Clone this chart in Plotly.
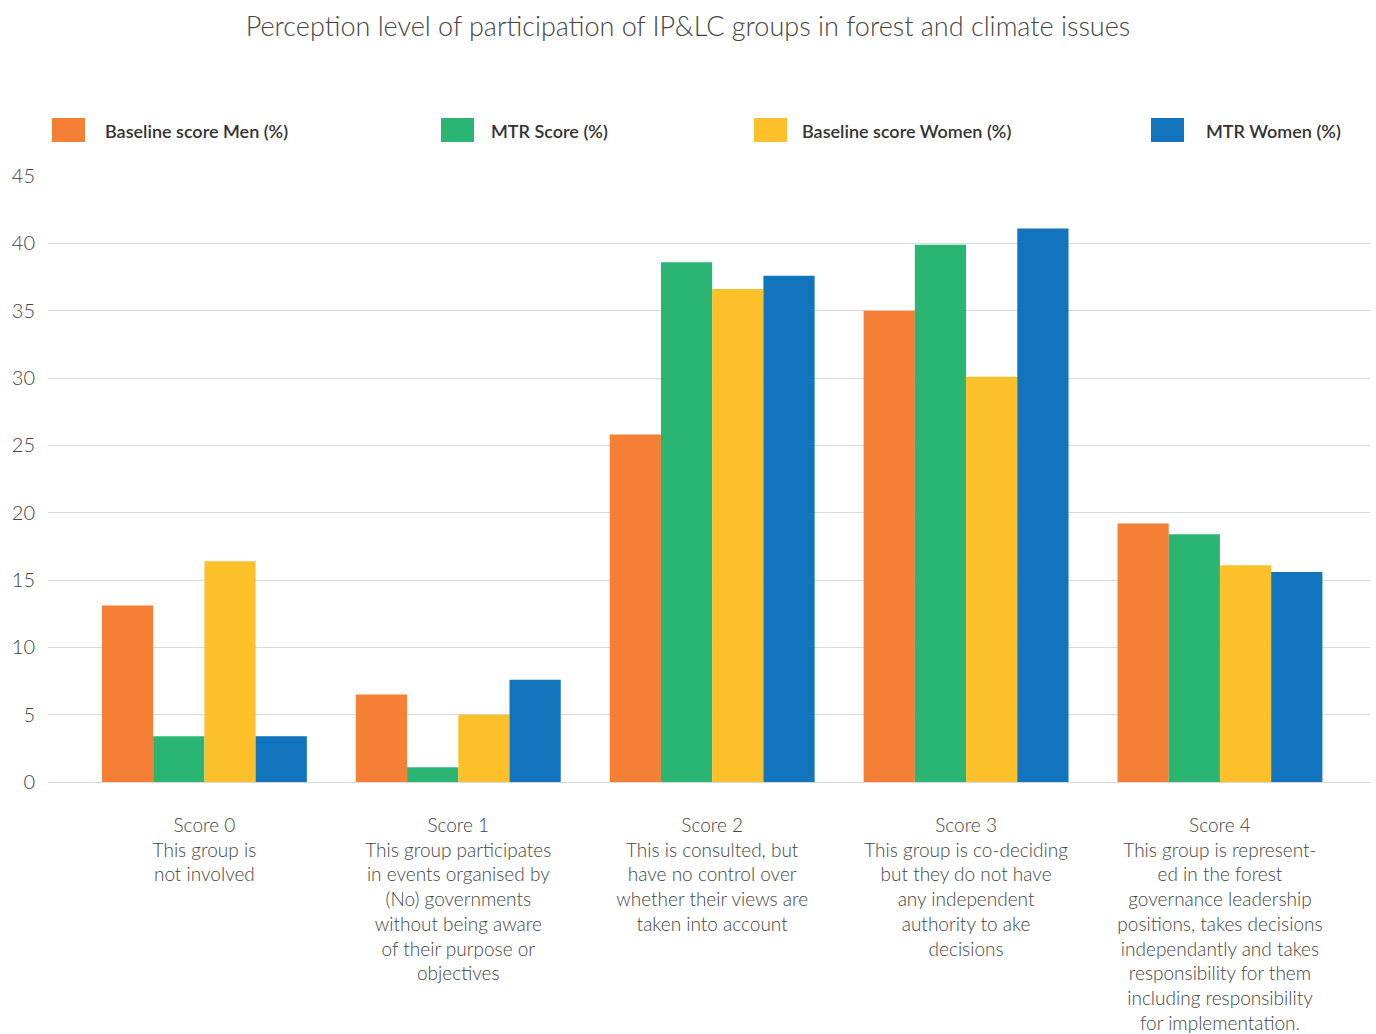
import plotly.graph_objects as go

# Participation score categories (x axis)
categories = [
    "Score 0<br>This group is<br>not involved",
    "Score 1<br>This group participates<br>in events organised by<br>(No) governments<br>without being aware<br>of their purpose or<br>objectives",
    "Score 2<br>This is consulted, but<br>have no control over<br>whether their views are<br>taken into account",
    "Score 3<br>This group is co-deciding<br>but they do not have<br>any independent<br>authority to ake<br>decisions",
    "Score 4<br>This group is represent-<br>ed in the forest<br>governance leadership<br>positions, takes decisions<br>independantly and takes<br>responsibility for them<br>including responsibility<br>for implementation.",
]

series_names = [
    "Baseline score Men (%)",
    "MTR Score (%)",
    "Baseline score Women (%)",
    "MTR Women (%)",
]

baseline_men = [13.1, 6.5, 25.8, 35.0, 19.2]
mtr_score = [3.4, 1.1, 38.6, 39.9, 18.4]
baseline_women = [16.4, 5.0, 36.6, 30.1, 16.1]
mtr_women = [3.4, 7.6, 37.6, 41.1, 15.6]

y_ticks = [0, 5, 10, 15, 20, 25, 30, 35, 40, 45]

series_values = [baseline_men, mtr_score, baseline_women, mtr_women]
colors = ["#F47F35", "#2BB573", "#FBC02A", "#1174BC"]

FONT = "Lato"
TEXT = "#444444"

W, H = 1376, 1034
L, R, T, B = 48, 6, 176, 252


def px_x(px):
    return (px - L) / (W - L - R)


def px_y(py):
    return (H - B - py) / (H - T - B)


fig = go.Figure()
for name, vals, col in zip(series_names, series_values, colors):
    fig.add_trace(go.Bar(
        x=categories, y=vals, name=name,
        marker=dict(color=col, line=dict(width=0)),
        showlegend=False,
    ))

# Legend drawn as swatches with labels spread across the top
legend_pos = [(52, 103), (441, 489), (754, 800), (1151, 1204)]
shapes = []
annotations = []
for (sx, tx), name, col in zip(legend_pos, series_names, colors):
    shapes.append(dict(
        type="rect", xref="paper", yref="paper",
        x0=px_x(sx), x1=px_x(sx + 33), y0=px_y(142), y1=px_y(118),
        fillcolor=col, line=dict(width=0),
    ))
    annotations.append(dict(
        xref="paper", yref="paper", x=px_x(tx), y=px_y(131),
        xanchor="left", yanchor="middle", showarrow=False,
        text=name, font=dict(family=FONT, size=18, color="#333333", weight=600),
    ))

fig.update_layout(
    width=W, height=H,
    margin=dict(l=L, r=R, t=T, b=B, autoexpand=False),
    paper_bgcolor="white", plot_bgcolor="white",
    barmode="group", bargap=0.193, bargroupgap=0,
    title=dict(
        text="Perception level of participation of IP&LC groups in forest and climate issues",
        x=0.5, xref="container", xanchor="center", y=1 - 27 / H, yref="container", yanchor="middle",
        font=dict(family=FONT, size=27, color=TEXT, weight=300),
    ),
    font=dict(family=FONT, color=TEXT, weight=300),
    shapes=shapes,
    annotations=annotations,
)

fig.update_xaxes(
    type="category", range=[-0.616, 4.591],
    showgrid=False, zeroline=False, showline=False, ticks="",
    tickfont=dict(family=FONT, size=19, color=TEXT, weight=300),
    ticklabelstandoff=30, automargin=False,
)
fig.update_yaxes(
    range=[0, 45], tickvals=y_ticks,
    showgrid=True, gridcolor="#D9D9D9", gridwidth=1,
    zeroline=True, zerolinecolor="#D9D9D9", zerolinewidth=1,
    showline=False, ticks="",
    tickfont=dict(family=FONT, size=20, color=TEXT, weight=300),
    ticklabelstandoff=12, automargin=False,
)

fig.write_html("out.html")
